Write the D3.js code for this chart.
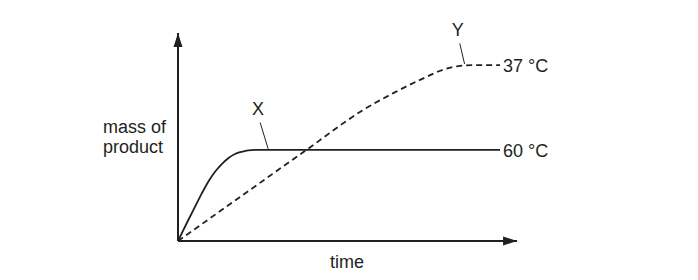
<!DOCTYPE html>
<html>
<head>
<meta charset="utf-8">
<script src="https://cdn.jsdelivr.net/npm/d3@7"></script>
<style>
  html, body { margin: 0; padding: 0; background: #fff; }
  svg { display: block; }
  text { font-family: "Liberation Sans", Arial, sans-serif; fill: #231f20; }
</style>
</head>
<body>
<svg id="chart" width="698" height="280"></svg>
<script>
// time (arbitrary units) and mass of product (arbitrary units)
const curve60 = [
  [0, 0], [3.2, 10.1], [5.3, 16.5], [7.4, 22.9], [9.4, 28.5], [11.5, 33.3], [13.6, 37.0],
  [15.6, 39.8], [17.7, 41.8], [19.8, 42.9], [21.8, 43.6], [23.9, 43.8], [100, 43.8],
];
const curve37 = [
  [0, 0], [40, 43.9], [57, 62.5], [67, 71.2], [77, 78.8], [82, 82.2], [87, 84.1], [92, 84.6], [100, 84.6],
];
const seriesLabels = ['60 °C', '37 °C'];
const pointLabels = [
  { name: 'X', at: [28, 43.8], from: [25.5, 57] },
  { name: 'Y', at: [89, 84.6], from: [87.5, 95] },
];

const svg = d3.select('#chart');
const ink = '#231f20';

const x = d3.scaleLinear().domain([0, 100]).range([178, 500]);
const y = d3.scaleLinear().domain([0, 100]).range([241, 33]);

const line = d3.line()
  .x((d) => x(d[0]))
  .y((d) => y(d[1]))
  .curve(d3.curveMonotoneX);

// axes with arrowheads
const defs = svg.append('defs');
defs.append('marker')
  .attr('id', 'arrow')
  .attr('viewBox', '0 -5 14 10')
  .attr('refX', 14)
  .attr('refY', 0)
  .attr('markerUnits', 'userSpaceOnUse')
  .attr('markerWidth', 14)
  .attr('markerHeight', 10)
  .attr('orient', 'auto')
  .append('path')
  .attr('d', 'M0,-4.5L14,0L0,4.5Z')
  .attr('fill', ink);

svg.append('line')
  .attr('x1', x(0)).attr('y1', y(0))
  .attr('x2', x(0)).attr('y2', y(100))
  .attr('stroke', ink).attr('stroke-width', 2)
  .attr('marker-end', 'url(#arrow)');

svg.append('line')
  .attr('x1', x(0)).attr('y1', y(0))
  .attr('x2', x(105.3)).attr('y2', y(0))
  .attr('stroke', ink).attr('stroke-width', 2)
  .attr('marker-end', 'url(#arrow)');

// curves
svg.append('path')
  .datum(curve60)
  .attr('d', line)
  .attr('fill', 'none')
  .attr('stroke', ink)
  .attr('stroke-width', 1.8);

svg.append('path')
  .datum(curve37)
  .attr('d', line)
  .attr('fill', 'none')
  .attr('stroke', ink)
  .attr('stroke-width', 1.8)
  .attr('stroke-dasharray', '6,4');

// end labels
[curve60, curve37].forEach((c, i) => {
  const last = c[c.length - 1];
  svg.append('text')
    .attr('x', x(last[0]) + 3)
    .attr('y', y(last[1]) + 7)
    .attr('font-size', 18)
    .text(seriesLabels[i]);
});

// X and Y callouts
pointLabels.forEach((p) => {
  svg.append('line')
    .attr('x1', x(p.from[0])).attr('y1', y(p.from[1]))
    .attr('x2', x(p.at[0])).attr('y2', y(p.at[1]) - 1)
    .attr('stroke', ink).attr('stroke-width', 1);
  svg.append('text')
    .attr('x', x(p.from[0]) - 2)
    .attr('y', y(p.from[1]) - 7)
    .attr('text-anchor', 'middle')
    .attr('font-size', 18)
    .text(p.name);
});

// axis titles
svg.append('text')
  .attr('x', 103).attr('y', 133)
  .attr('font-size', 18)
  .text('mass of');
svg.append('text')
  .attr('x', 103).attr('y', 153)
  .attr('font-size', 18)
  .text('product');

svg.append('text')
  .attr('x', 347).attr('y', 268)
  .attr('text-anchor', 'middle')
  .attr('font-size', 18)
  .text('time');
</script>
</body>
</html>
